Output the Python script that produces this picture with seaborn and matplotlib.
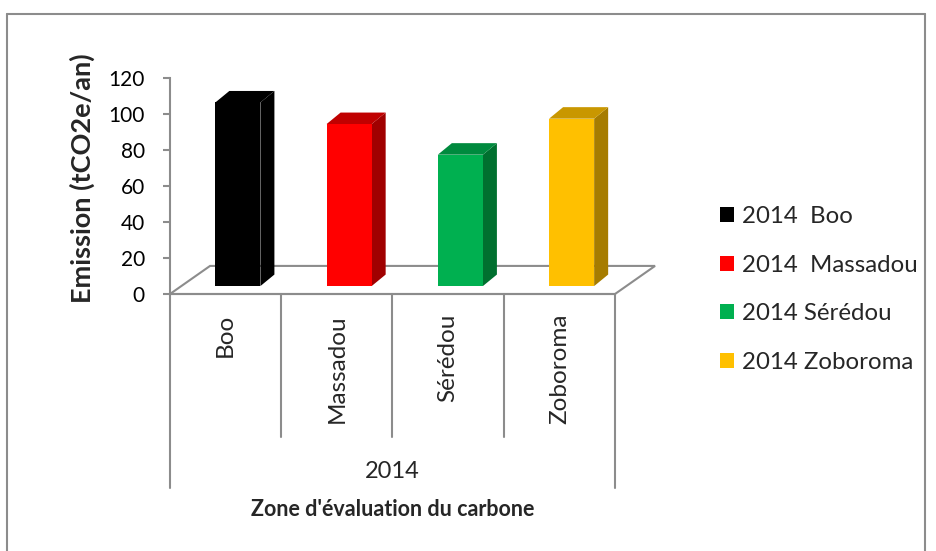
import matplotlib
matplotlib.use("Agg")
import matplotlib.pyplot as plt
from matplotlib.patches import Polygon, Patch
from matplotlib.lines import Line2D
import seaborn as sns
import pandas as pd

# Carbon emission per evaluation zone (tCO2e/an), 2014
zones = ["Boo", "Massadou", "Sérédou", "Zoboroma"]
emissions = [102, 90, 73, 93]
year = "2014"
legend_labels = ["2014  Boo", "2014  Massadou", "2014 Sérédou", "2014 Zoboroma"]
y_ticks = [0, 20, 40, 60, 80, 100, 120]

front_colors = ["#000000", "#FF0000", "#00B050", "#FFC000"]
top_colors = ["#000000", "#C00000", "#008A3E", "#C99700"]
side_colors = ["#000000", "#A00000", "#00702F", "#A67C00"]

GRAY = "#8C8C8C"
FONT = "Lato"

sns.set_theme(style="white")
plt.rcParams["font.family"] = [FONT, "DejaVu Sans"]

W, H = 937, 551
fig = plt.figure(figsize=(W / 100, H / 100), dpi=100)

# axes box in pixel terms: x 170..615, y 78..294 (from top)
ax = fig.add_axes([170 / W, (H - 294) / H, (615 - 170) / W, (294 - 78) / H])

df = pd.DataFrame({"zone": zones, "emission": emissions})
sns.barplot(data=df, x="zone", y="emission", hue="zone", palette=front_colors,
            width=0.405, legend=False, ax=ax, saturation=1, linewidth=0)

XMIN, XMAX = -0.61, 3.39
ax.set_xlim(XMIN, XMAX)
ax.set_ylim(0, 120)

base = 4.4          # bars stand on the middle of the floor
bdx, bdy = 0.126, 6.4   # bar depth offsets
fdx, fdy = 0.36, 15.6   # floor depth offsets

# floor parallelogram
floor = Polygon([(XMIN, 0), (XMIN + fdx, fdy), (XMAX + fdx, fdy), (XMAX, 0)],
                closed=True, facecolor="white", edgecolor=GRAY, lw=1.5,
                clip_on=False, zorder=0.5)
ax.add_patch(floor)

for p, fc, tc, sc in zip(ax.patches, front_colors, top_colors, side_colors):
    h = p.get_height()
    p.set_y(base)
    p.set_zorder(3)
    xl = p.get_x()
    xr = xl + p.get_width()
    top = base + h
    side = Polygon([(xr, base), (xr + bdx, base + bdy), (xr + bdx, top + bdy), (xr, top)],
                   closed=True, facecolor=sc, edgecolor="none", zorder=2, clip_on=False)
    lid = Polygon([(xl, top), (xl + bdx, top + bdy), (xr + bdx, top + bdy), (xr, top)],
                  closed=True, facecolor=tc, edgecolor="none", zorder=2, clip_on=False)
    ax.add_patch(side)
    ax.add_patch(lid)

# y axis
for s in ["top", "right"]:
    ax.spines[s].set_visible(False)
ax.spines["left"].set_color(GRAY)
ax.spines["left"].set_linewidth(1.5)
ax.spines["bottom"].set_color(GRAY)
ax.spines["bottom"].set_linewidth(1.5)
ax.set_yticks(y_ticks)
ax.set_yticklabels([str(t) for t in y_ticks], fontsize=15, color="black")
ax.tick_params(axis="y", direction="out", length=5, width=1.5, color=GRAY, pad=13, left=True)
ax.set_xticks([])
ax.set_xlabel("")
ax.set_ylabel("")

# category dividers and labels below the axis
trans = ax.get_xaxis_transform()
px = 1 / (294 - 78)  # one pixel in axes-fraction units (vertical)
for k in range(len(zones) + 1):
    xk = XMIN + k
    end = (294 - 488) * px if k in (0, len(zones)) else (294 - 437) * px
    ax.add_line(Line2D([xk, xk], [0, end], transform=trans, color=GRAY, lw=1.5,
                       clip_on=False))
for k, z in enumerate(zones):
    ax.text(XMIN + k + 0.5, (294 - 314) * px, z, transform=trans, rotation=90,
            ha="center", va="top", fontsize=17.5)
ax.text((XMIN + XMAX) / 2, (294 - 472) * px, year, transform=trans,
        ha="center", va="center", fontsize=17)

fig.text(393 / W, 1 - 509 / H, "Zone d'évaluation du carbone", ha="center", va="center",
         fontsize=15.5, fontweight="bold")
fig.text(82 / W, 1 - 178 / H, "Emission (tCO2e/an)", ha="center", va="center",
         rotation=90, fontsize=19.5, fontweight="bold")

# legend
handles = [Patch(facecolor=c, edgecolor="none") for c in front_colors]
fig.legend(handles, legend_labels, loc="upper left", bbox_to_anchor=(720 / W, 1 - 206 / H),
           frameon=False, fontsize=17.3, handlelength=0.6, handleheight=0.6,
           handletextpad=0.3, labelspacing=1.15, borderpad=0, borderaxespad=0)

# chart frame
fig.add_artist(Line2D([7 / W, 925 / W], [1 - 14 / H, 1 - 14 / H], transform=fig.transFigure,
                      color=GRAY, lw=1.5))
fig.add_artist(Line2D([7 / W, 7 / W], [1 - 14 / H, 0], transform=fig.transFigure,
                      color=GRAY, lw=1.5))
fig.add_artist(Line2D([925 / W, 925 / W], [1 - 14 / H, 0], transform=fig.transFigure,
                      color=GRAY, lw=1.5))

fig.savefig("out.png", dpi=100, facecolor="white")
